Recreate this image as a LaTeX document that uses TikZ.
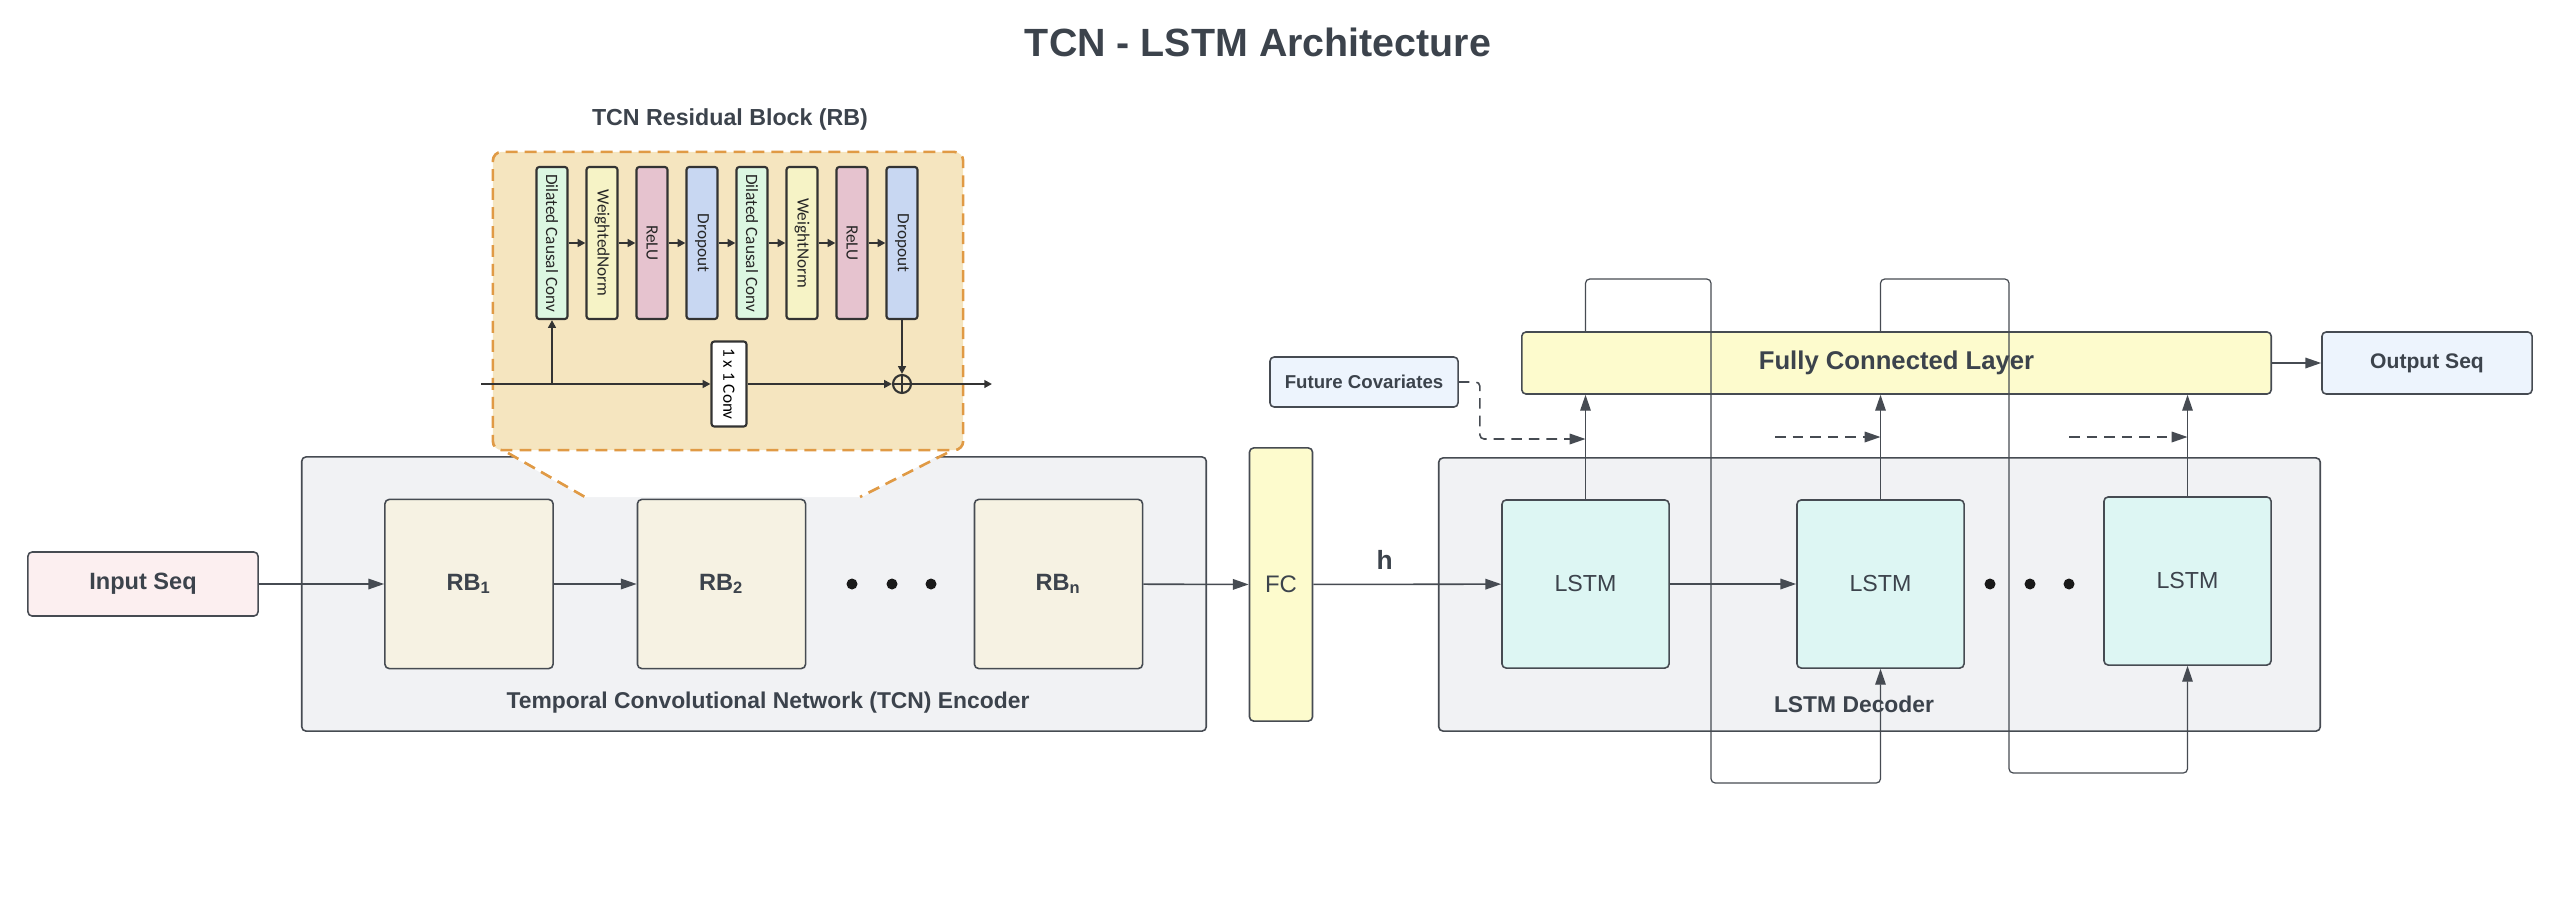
\documentclass[tikz,border=0pt]{standalone}
\usepackage{graphicx}
\usepackage{fontspec}
\setmainfont{Liberation Sans}
\newfontfamily\blkfont{Carlito}
\usetikzlibrary{arrows.meta,positioning}

\newcommand{\fsz}[1]{\fontsize{#1}{#1}\selectfont}

\definecolor{txt}{HTML}{3C434C}
\definecolor{edge}{HTML}{464B52}
\definecolor{panel}{HTML}{F1F2F4}
\definecolor{rbfill}{HTML}{F6F2E3}
\definecolor{infill}{HTML}{FCEFF0}
\definecolor{fcfill}{HTML}{FDFBCD}
\definecolor{lstmfill}{HTML}{DDF6F3}
\definecolor{seqfill}{HTML}{EDF4FD}
\definecolor{rbpanel}{HTML}{F5E5BF}
\definecolor{rbdash}{HTML}{E09A45}
\definecolor{convc}{HTML}{DCF7E2}
\definecolor{normc}{HTML}{F6F3C6}
\definecolor{reluc}{HTML}{E6C3CF}
\definecolor{dropc}{HTML}{C8D7F2}

\tikzset{
  box/.style={draw=edge, line width=0.45pt, rounded corners=1.2pt, text=txt, inner sep=0pt},
  panelbox/.style={box, fill=panel},
  blk/.style={draw=black!80, line width=0.6pt, rounded corners=0.8pt, minimum width=0.31cm,
    minimum height=1.52cm, inner sep=0pt, font=\blkfont\fsz{4.9}, text=black!85},
  flow/.style={draw=edge, line width=0.45pt, -{Triangle[length=4.5pt,width=3pt]}},
  loopline/.style={draw=edge, line width=0.35pt, rounded corners=1.2pt},
  small/.style={draw=black!80, line width=0.6pt, -{Triangle[length=2.2pt,width=2.2pt]}},
  covline/.style={draw=edge, line width=0.45pt, dash pattern=on 3pt off 2pt, rounded corners=1.2pt,
    -{Triangle[length=4.5pt,width=3pt]}},
  dot/.style={circle, fill=black!90, inner sep=0pt, minimum size=0.11cm},
  lbl/.style={text=txt, font=\bfseries\fsz{6.5}},
}

\begin{document}
\begin{tikzpicture}[x=0.01cm, y=-0.01cm]
    \useasboundingbox (0,0) rectangle (2576,912);

    % Title
    \node [text=txt, font=\bfseries\fsz{11.2}] (title) at (1258,42) {TCN - LSTM Architecture};

    % Encoder panel
    \node [panelbox, minimum width=9.04cm, minimum height=2.74cm] (enc) at (754,594) {};
    \node [lbl] (enclbl) at (768,703) {Temporal Convolutional Network (TCN) Encoder};

    % Zoom wedge of the residual block
    \fill [white] (503,451) -- (947,451) -- (862,497) -- (583,497) -- cycle;
    \draw [rbdash, line width=0.75pt, dash pattern=on 3.4pt off 2pt] (508,453) -- (585,497);
    \draw [rbdash, line width=0.75pt, dash pattern=on 3.4pt off 2pt] (947,453) -- (860,497);

    % Residual block
    \node [draw=rbdash, fill=rbpanel, line width=0.75pt, dash pattern=on 3.4pt off 2pt,
        rounded corners=2.5pt, minimum width=4.7cm, minimum height=2.98cm] (rbpanel) at (728,301) {};
    \node [lbl, font=\bfseries\fsz{6.6}] (rbtitle) at (730,119) {TCN Residual Block (RB)};

    \foreach \lab/\col [count=\i] in {Dilated Causal Conv/convc, WeightedNorm/normc, ReLU/reluc,
        Dropout/dropc, Dilated Causal Conv/convc, WeightNorm/normc, ReLU/reluc, Dropout/dropc}
        \node [blk, fill=\col] (b\i) at ({502+50*\i},243) {\rotatebox{-90}{\lab}};
    \foreach \i [evaluate=\i as \j using int(\i+1)] in {1,...,7}
        \draw [small] (b\i) -- (b\j);

    \node [draw=black!80, fill=white, line width=0.6pt, rounded corners=0.8pt, inner sep=0pt,
        minimum width=0.35cm, minimum height=0.85cm, font=\blkfont\fsz{4.9}] (conv) at (729,384)
        {\rotatebox{-90}{1 x 1 Conv}};
    \node [circle, draw=black!80, line width=0.6pt, inner sep=0pt, minimum size=0.18cm] (sum) at (902,384) {};
    \draw [black!80, line width=0.5pt] (sum.north) -- (sum.south) (sum.west) -- (sum.east);

    \coordinate (rbin) at (481,384);
    \coordinate (rbout) at (992,384);
    \coordinate (tap) at (b1 |- rbin);
    \draw [small] (rbin) -- (conv);
    \draw [small] (tap) -- (b1.south);
    \draw [small] (conv) -- (sum);
    \draw [small] (b8.south) -- (sum.north);
    \draw [small] (sum) -- (rbout);

    % Encoder blocks
    \node [box, fill=infill, minimum width=2.3cm, minimum height=0.64cm, font=\bfseries\fsz{6.7}] (inseq) at (143,584) {Input Seq};
    \node [box, fill=rbfill, minimum width=1.68cm, minimum height=1.69cm, font=\bfseries\fsz{6.7}] (rb1) at (469,584) {RB\textsubscript{1}};
    \node [box, fill=rbfill, minimum width=1.68cm, minimum height=1.69cm, font=\bfseries\fsz{6.7}] (rb2) at (721.5,584) {RB\textsubscript{2}};
    \node [box, fill=rbfill, minimum width=1.68cm, minimum height=1.69cm, font=\bfseries\fsz{6.7}] (rbn) at (1058.5,584) {RB\textsubscript{n}};
    \foreach \x [count=\i] in {852,892,931}
        \node [dot] (ed\i) at (\x,584) {};

    \draw [flow] (inseq) -- (rb1);
    \draw [flow] (rb1) -- (rb2);

    % Bridge
    \node [box, fill=fcfill, minimum width=0.63cm, minimum height=2.73cm, font=\fsz{6.8}] (fc) at (1281,584.5) {FC};
    \draw [flow] (rbn) -- (fc);

    % Decoder panel
    \node [panelbox, minimum width=8.81cm, minimum height=2.73cm] (dec) at (1879.5,594.5) {};
    \node [lbl] (declbl) at (1854,704) {LSTM Decoder};

    \node [box, fill=lstmfill, minimum width=1.67cm, minimum height=1.68cm, font=\fsz{6.6}] (lstm1) at (1585.5,584) {LSTM};
    \node [box, fill=lstmfill, minimum width=1.67cm, minimum height=1.68cm, font=\fsz{6.6}] (lstm2) at (1880.5,584) {LSTM};
    \node [box, fill=lstmfill, minimum width=1.67cm, minimum height=1.68cm, font=\fsz{6.6}] (lstm3) at (2187.5,581) {LSTM};
    \foreach \x [count=\i] in {1990,2030,2069}
        \node [dot] (dd\i) at (\x,584) {};

    \draw [flow] (fc) -- node [pos=0.38, above=0.14cm, inner sep=0pt, text=txt, font=\bfseries\fsz{7.5}] (hlbl) {h} (lstm1);
    \draw [flow] (lstm1) -- (lstm2);

    % Output side
    \node [box, fill=fcfill, minimum width=7.49cm, minimum height=0.62cm, font=\bfseries\fsz{7.3}] (fcl) at (1896.5,363) {Fully Connected Layer};
    \node [box, fill=seqfill, minimum width=2.1cm, minimum height=0.62cm, font=\bfseries\fsz{6}] (outseq) at (2427,363) {Output Seq};
    \node [box, fill=seqfill, minimum width=1.88cm, minimum height=0.5cm, font=\bfseries\fsz{5.3}] (futcov) at (1364,382) {Future Covariates};
    \draw [flow] (fcl) -- (outseq);

    % LSTM outputs to the dense layer
    \draw [flow, line width=0.35pt] (lstm1.north) -- (lstm1.north |- fcl.south);
    \draw [flow, line width=0.35pt] (lstm2.north) -- (lstm2.north |- fcl.south);
    \draw [flow, line width=0.35pt] (lstm3.north) -- (lstm3.north |- fcl.south);

    % Feedback of predictions
    \draw [loopline, -{Triangle[length=4.5pt,width=3pt]}] (lstm1.north |- fcl.north) -- (lstm1.north |- 0,279) -| (1711,783) -| (lstm2.south);
    \draw [loopline, -{Triangle[length=4.5pt,width=3pt]}] (lstm2.north |- fcl.north) -- (lstm2.north |- 0,279) -| (2009,773) -| (lstm3.south);

    % Covariates
    \coordinate (cov1) at (lstm1.north |- 0,439);
    \coordinate (cov2s) at (1775,437);
    \coordinate (cov2) at (lstm2.north |- 0,437);
    \coordinate (cov3s) at (2069,437);
    \coordinate (cov3) at (lstm3.north |- 0,437);
    \draw [covline] (futcov.east) -- ++(21,0) |- (cov1);
    \draw [covline] (cov2s) -- (cov2);
    \draw [covline] (cov3s) -- (cov3);
\end{tikzpicture}
\end{document}
